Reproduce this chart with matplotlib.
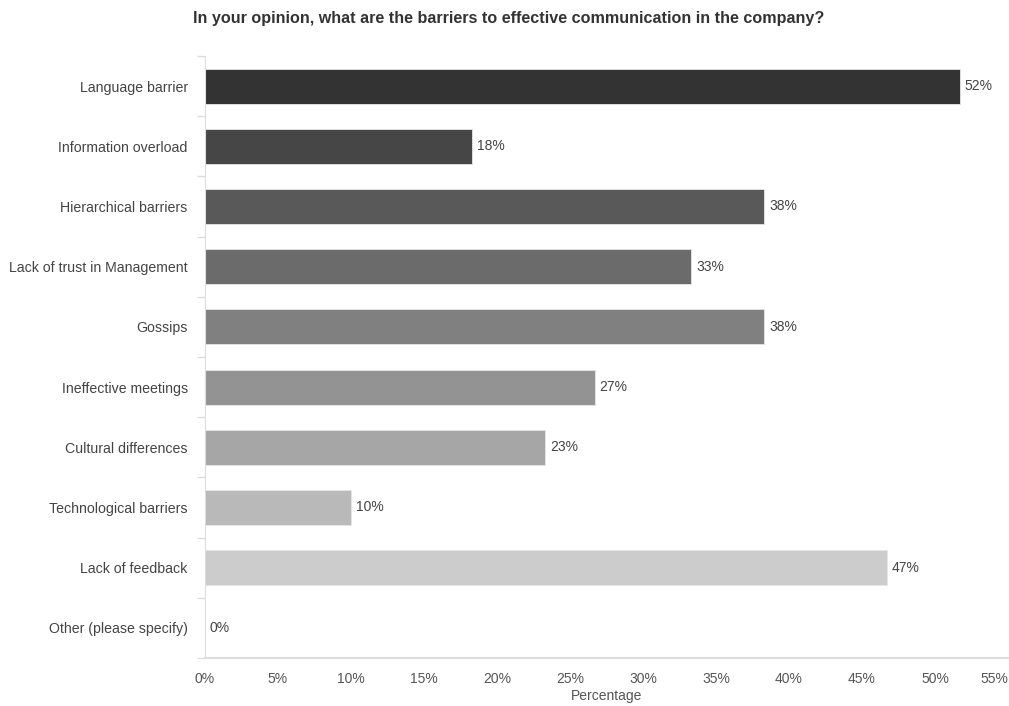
import matplotlib.pyplot as plt
import numpy as np

plt.rcParams['font.family'] = ['Liberation Sans', 'DejaVu Sans']

categories = [
    'Language barrier', 'Information overload', 'Hierarchical barriers',
    'Lack of trust in Management', 'Gossips', 'Ineffective meetings',
    'Cultural differences', 'Technological barriers', 'Lack of feedback',
    'Other (please specify)',
]
values = [51.7, 18.3, 38.3, 33.3, 38.3, 26.7, 23.3, 10.0, 46.7, 0.0]
value_labels = ['52%', '18%', '38%', '33%', '38%', '27%', '23%', '10%', '47%', '0%']
bar_colors = ['#333333', '#464646', '#595959', '#6b6b6b', '#808080',
              '#939393', '#a6a6a6', '#b9b9b9', '#cccccc', '#dfdfdf']
xticks = list(range(0, 60, 5))

fig = plt.figure(figsize=(10.09, 7.06), dpi=100)
ax = fig.add_axes([205 / 1009, 48 / 706, 803 / 1009, 602 / 706])

y = np.arange(len(categories))
ax.barh(y, values, height=0.58, color=bar_colors, edgecolor='#e6e6e6', linewidth=0.6)
for yi, v, lab in zip(y, values, value_labels):
    ax.annotate(lab, (v, yi), xytext=(3.5, 0), textcoords='offset points',
                va='center', ha='left', fontsize=10, color='#444444')

ax.set_ylim(len(categories) - 0.5, -0.5)
ax.set_xlim(0, 55)

ax.set_yticks(y)
ax.set_yticklabels(categories, fontsize=10.2, color='#444444')
ax.set_yticks(np.arange(-0.5, len(categories)), minor=True)
ax.tick_params(axis='y', which='major', length=0, pad=12.5)
ax.tick_params(axis='y', which='minor', length=6, color='#dddddd', width=1)

ax.set_xticks(xticks)
ax.set_xticklabels([f'{t}%' for t in xticks], fontsize=10, color='#555555')
ax.tick_params(axis='x', length=0, pad=10)
ax.get_xticklabels()[-1].set_ha('right')

for s in ['top', 'right']:
    ax.spines[s].set_visible(False)
ax.spines['left'].set_color('#dddddd')
ax.spines['bottom'].set_color('#dddddd')
ax.spines['bottom'].set_linewidth(1.5)

ax.set_xlabel('Percentage', fontsize=10, color='#555555', labelpad=2)
fig.suptitle('In your opinion, what are the barriers to effective communication in the company?',
             x=509 / 1009, y=0.985, fontsize=11.6, fontweight='bold', color='#333333')

fig.savefig('out.png', dpi=100)
